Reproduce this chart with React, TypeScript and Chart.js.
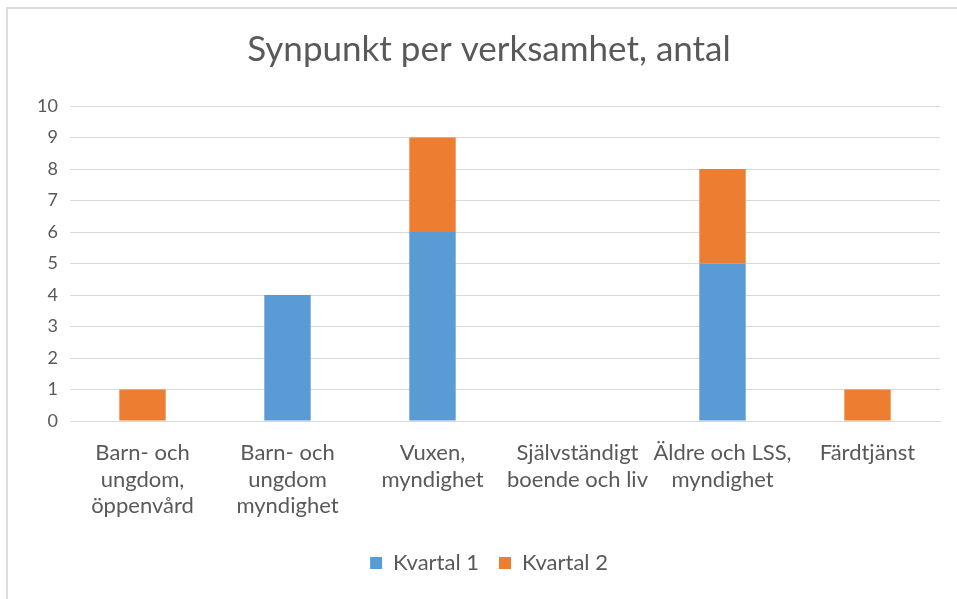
import React, { useEffect, useRef } from "react";
import { Chart, registerables } from "chart.js";

Chart.register(...registerables);

const categories: string[][] = [
  ["Barn- och", "ungdom,", "öppenvård"],
  ["Barn- och", "ungdom", "myndighet"],
  ["Vuxen,", "myndighet"],
  ["Självständigt", "boende och liv"],
  ["Äldre och LSS,", "myndighet"],
  ["Färdtjänst"],
];
const kvartal1: number[] = [0, 4, 6, 0, 5, 0];
const kvartal2: number[] = [1, 0, 3, 0, 3, 1];
const seriesNames: string[] = ["Kvartal 1", "Kvartal 2"];
const titleText = "Synpunkt per verksamhet, antal";

const FONT = "Lato, 'Open Sans', sans-serif";
const TEXT = "#595959";

export default function App() {
  const ref = useRef<HTMLCanvasElement | null>(null);
  useEffect(() => {
    if (!ref.current) return;
    const chart = new Chart(ref.current, {
      type: "bar",
      data: {
        labels: categories,
        datasets: [
          { label: seriesNames[0], data: kvartal1, backgroundColor: "#5B9BD5", barPercentage: 0.32, categoryPercentage: 1 },
          { label: seriesNames[1], data: kvartal2, backgroundColor: "#ED7D31", barPercentage: 0.32, categoryPercentage: 1 },
        ],
      },
      options: {
        animation: false,
        responsive: false,
        maintainAspectRatio: false,
        layout: { padding: { left: 21, right: 0, top: 0, bottom: 15 } },
        plugins: {
          title: {
            display: true,
            text: titleText,
            color: TEXT,
            font: { family: FONT, size: 35, weight: "normal", lineHeight: 1.2 },
            padding: { top: 29, bottom: 35 },
          },
          legend: {
            position: "bottom",
            labels: {
              color: TEXT,
              font: { family: FONT, size: 22 },
              boxWidth: 12,
              boxHeight: 12,
              padding: 20,
            },
          },
          tooltip: { enabled: false },
        },
        scales: {
          x: {
            stacked: true,
            grid: { display: false, drawTicks: false },
            border: { display: true, color: "#d9d9d9", width: 1 },
            ticks: {
              color: TEXT,
              font: { family: FONT, size: 22, lineHeight: 1.2 },
              padding: 19,
              maxRotation: 0,
              autoSkip: false,
            },
            afterFit: (scale: any) => {
              scale.height = 111;
            },
          },
          y: {
            stacked: true,
            min: 0,
            max: 10,
            grid: { color: "#d9d9d9", lineWidth: 1, drawTicks: false },
            border: { display: false },
            ticks: {
              stepSize: 1,
              color: TEXT,
              font: { family: FONT, size: 18 },
              padding: 12,
            },
            afterFit: (scale: any) => {
              scale.width = 49;
            },
          },
          yRight: {
            position: "right",
            display: true,
            min: 0,
            max: 10,
            grid: { display: false, drawTicks: false },
            border: { display: false },
            ticks: { display: false },
            afterFit: (scale: any) => {
              scale.width = 17;
            },
          },
        },
      },
    });
    return () => chart.destroy();
  }, []);
  return (
    <div style={{ position: "absolute", left: 0, top: 0, width: 957, height: 599, background: "#fff" }}>
      <canvas ref={ref} width={957} height={599} style={{ position: "absolute", left: 0, top: 0, width: 957, height: 599 }} />
      <div
        style={{
          position: "absolute",
          left: 6,
          top: 7,
          width: 951,
          height: 592,
          borderTop: "2px solid #dcdcdc",
          borderLeft: "2px solid #dcdcdc",
          boxSizing: "border-box",
          pointerEvents: "none",
        }}
      />
    </div>
  );
}
